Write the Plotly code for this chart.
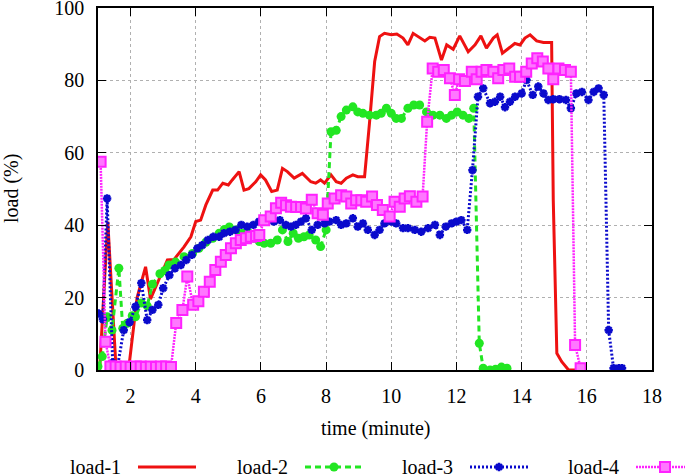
import plotly.graph_objects as go

# ---------------- data ----------------
load1_t = [1.05, 1.3, 1.55, 1.75, 1.95, 2.2, 2.46, 2.61, 2.87, 3.13, 3.33, 3.64, 3.85, 4.0, 4.15,
           4.31, 4.52, 4.67, 4.83, 5.0, 5.12, 5.33, 5.48, 5.63, 5.84, 5.99, 6.14, 6.33, 6.5, 6.66,
           6.81, 7.02, 7.27, 7.53, 7.68, 7.83, 7.95, 8.15, 8.31, 8.46, 8.62, 8.82, 8.97, 9.18, 9.33,
           9.49, 9.64, 9.79, 10.0, 10.17, 10.36, 10.51, 10.67, 10.85, 11.03, 11.18, 11.34, 11.54,
           11.7, 11.9, 12.1, 12.36, 12.57, 12.75, 12.92, 13.13, 13.25, 13.41, 13.59, 13.79, 13.95,
           14.1, 14.26, 14.46, 14.67, 14.92, 14.97, 15.08, 15.23, 15.44, 15.69]
load1_v = [0, 41, 1, 0.5, 1, 20, 28.5, 19.6, 25, 30.4, 30.5, 34, 36.8, 41, 41.4,
           45.6, 49.7, 49.7, 51.6, 51.1, 52.5, 54.8, 49.7, 50.1, 52, 53.9, 52.5, 49.3, 49.7, 55.7,
           54.8, 53, 54.3, 52, 51.6, 52.5, 51.6, 53.9, 52, 51.6, 53, 53.9, 53.4, 53.4, 68.1,
           85.2, 92.1, 93, 92.6, 92.8, 91.7, 89.8, 93, 91.9, 90.9, 91.9, 91.7, 85.6,
           89.8, 88.6, 92.3, 87.9, 89.8, 92.3, 88.9, 91.7, 92.6, 87.5, 88.8, 90.2, 89.8,
           91.7, 92.6, 90.9, 90.5, 90.5, 47, 4.6, 2.3, 0, 0]

load2_t = [1.0, 1.13, 1.28, 1.43, 1.64, 1.76, 1.9, 2.05, 2.15, 2.33, 2.51, 2.67, 2.9, 3.05, 3.18,
           3.38, 3.64, 3.9, 4.1, 4.31, 4.52, 4.72, 4.88, 5.03, 5.23, 5.43, 5.64, 5.79, 5.95, 6.1,
           6.3, 6.5, 6.66, 6.83, 6.99, 7.15, 7.32, 7.48, 7.68, 7.83, 8.0, 8.15, 8.31, 8.46, 8.62,
           8.82, 8.97, 9.13, 9.33, 9.54, 9.69, 9.85, 10.0, 10.15, 10.31, 10.51, 10.69, 10.87,
           11.08, 11.28, 11.49, 11.69, 11.85, 12.02, 12.2, 12.38, 12.53, 12.7, 12.82, 13.03,
           13.2, 13.38, 13.55]
load2_v = [1, 3.7, 14.7, 11, 28.1, 11.5, 12.9, 15, 14.7, 18.5, 17.7, 23.7, 26.6, 27.5, 29,
           29.8, 31.3, 32.2, 33.6, 35.3, 36.4, 37.8, 38.8, 39.5, 38.7, 37.8, 37.8, 36.4, 35.5, 35,
           35, 35.9, 38.7, 35.5, 37.8, 36.4, 36.8, 37.3, 35.9, 34.1, 38.7, 65.8, 66.2, 70, 71.8,
           72.7, 71.3, 70.9, 70.4, 70.4, 70.9, 72.3, 70.9, 69.5, 69.5, 72.3, 73.2, 73.2,
           71.3, 70.4, 70.4, 69.5, 70.4, 71.3, 70.4, 69.5, 72.3, 7.4, 0.5, 0,
           0.2, 0.8, 0.5]

load3_t = [1.02, 1.15, 1.28, 1.45, 1.59, 1.79, 1.97, 2.15, 2.33, 2.51, 2.67, 2.85, 3.0, 3.19,
           3.36, 3.54, 3.71, 3.88, 4.05, 4.2, 4.37, 4.54, 4.72, 4.87, 5.05, 5.22, 5.4, 5.58, 5.77,
           5.94, 6.1, 6.25, 6.4, 6.58, 6.76, 6.92, 7.07, 7.23, 7.38, 7.56, 7.74, 7.95, 8.1, 8.31,
           8.46, 8.62, 8.82, 8.97, 9.13, 9.28, 9.49, 9.64, 9.79, 10.0, 10.15, 10.36, 10.51, 10.72,
           10.92, 11.13, 11.34, 11.49, 11.67, 11.85, 12.0, 12.15, 12.33, 12.49, 12.66, 12.82,
           13.03, 13.18, 13.34, 13.49, 13.64, 13.8, 14.0, 14.15, 14.34, 14.51, 14.67, 14.82,
           14.97, 15.16, 15.36, 15.51, 15.68, 15.85, 16.05, 16.21, 16.36, 16.52, 16.67, 16.82,
           16.98, 17.08]
load3_v = [15.6, 14, 47.4, 2, 0.5, 11, 13.2, 17.5, 24, 13.8, 16.6, 18, 22.6, 26.2,
           28.1, 29, 30.4, 31.8, 33.6, 34.5, 35.9, 36.8, 36.8, 37.8, 38.2, 38.7, 40.1, 39.6, 40.1,
           41, 41.4, 41.4, 41, 41.4, 40.1, 39.6, 40.1, 41, 41.9, 38.7, 40.1, 40.5, 41, 41.4,
           40.1, 40.5, 41.9, 39.6, 40.5, 38.7, 37.3, 38.7, 40.5, 41, 40.5, 39.2, 39.2, 38.7,
           38.2, 39.2, 40.1, 37.3, 39.6, 40.5, 41, 41.4, 38.7, 55.2, 75.5, 77.8,
           73.7, 74.1, 75.5, 72.6, 74.1, 75.5, 76.4, 80.1, 76, 78.3, 76.4, 74.6,
           74.8, 74.8, 74.6, 72.3, 76.4, 76.8, 74.6, 76.8, 77.8, 76, 11, 0.5,
           0.5, 0.5]

load4_t = [1.08, 1.23, 1.38, 1.54, 1.69, 1.85, 2.0, 2.16, 2.31, 2.47, 2.62, 2.78, 2.93, 3.09, 3.24,
           3.4, 3.59, 3.74, 3.92, 4.08, 4.25, 4.43, 4.6, 4.77, 4.92, 5.08, 5.23, 5.38, 5.54, 5.69,
           5.85, 5.95, 6.1, 6.3, 6.46, 6.62, 6.77, 6.92, 7.08, 7.23, 7.38, 7.56, 7.74, 7.9, 8.05,
           8.26, 8.46, 8.62, 8.77, 8.92, 9.08, 9.23, 9.41, 9.56, 9.74, 9.95, 10.1, 10.26, 10.41,
           10.57, 10.77, 10.96, 11.1, 11.27, 11.44, 11.61, 11.8, 11.95, 12.08, 12.26, 12.47,
           12.62, 12.77, 12.92, 13.13, 13.28, 13.44, 13.62, 13.8, 13.95, 14.14, 14.31, 14.48,
           14.65, 14.82, 14.97, 15.13, 15.33, 15.51, 15.64, 15.81]
load4_v = [57.5, 7.8, 1, 1, 0.8, 1, 0.8, 1, 1, 0.8, 1, 0.8, 1, 1, 0.8,
           13, 16.6, 25.8, 18, 19, 21.6, 24.4, 27.6, 29.9, 31.8, 33.6, 35, 35.9, 36.4, 36.8,
           37, 37.3, 41.4, 42.4, 44.7, 46.2, 45.5, 45.1, 45, 45, 44.6, 47, 43.3, 42.9, 46,
           47.4, 48.3, 47.9, 46, 46.9, 46.9, 46.5, 47.9, 45.6, 44.2, 42.4, 46.5, 45.1, 47.4,
           48, 46.5, 47.9, 68.6, 83.3, 82.4, 82.9, 80.6, 76, 80.3, 79.8, 82.4,
           80.3, 82.4, 82.9, 82.4, 80.6, 82.9, 83.3, 81, 81, 82.4, 84.7, 86.1,
           85.2, 83.3, 80.3, 83.3, 82.9, 82.4, 6.9, 0.5]

series_names = ["load-1", "load-2", "load-3", "load-4"]
x_ticks = [2, 4, 6, 8, 10, 12, 14, 16, 18]
y_ticks = [0, 20, 40, 60, 80, 100]

# ---------------- styles ----------------
W, H = 685, 476
FONT = "'Liberation Serif', 'Times New Roman', 'DejaVu Serif', serif"
FS = 20
RED, GREEN, BLUE, PINK = "#ee1111", "#22e622", "#0a0acc", "#ff22ff"

styles = [
    dict(mode="lines", line=dict(color=RED, width=3)),
    dict(mode="lines+markers", line=dict(color=GREEN, width=3, dash="6px,4px"),
         marker=dict(symbol="circle", size=9, color=GREEN)),
    dict(mode="lines+markers", line=dict(color=BLUE, width=3, dash="2px,2px"),
         marker=dict(symbol="asterisk-open", size=7, color=BLUE, line=dict(color=BLUE, width=2.5))),
    dict(mode="lines+markers", line=dict(color=PINK, width=2.5, dash="2px,1px"),
         marker=dict(symbol="square", size=10, color="#ff77ff", line=dict(color=PINK, width=2))),
]

fig = go.Figure()
data = [(load1_t, load1_v), (load2_t, load2_v), (load3_t, load3_v), (load4_t, load4_v)]
for (t, v), name, st in zip(data, series_names, styles):
    fig.add_trace(go.Scatter(x=t, y=v, name=name, showlegend=False, xaxis="x", yaxis="y", **st))

# --- custom legend (text then sample, like gnuplot) on a pixel overlay axis ---
leg_text_x = [68, 235, 400, 566]
leg_y = 467
for i, (name, st) in enumerate(zip(series_names, styles)):
    x0 = leg_text_x[i] + 70
    x1 = x0 + 58
    fig.add_trace(go.Scatter(x=[x0, x1], y=[leg_y, leg_y], mode="lines", line=st["line"],
                             xaxis="x2", yaxis="y2", showlegend=False, hoverinfo="skip",
                             cliponaxis=False))
    if "marker" in st:
        fig.add_trace(go.Scatter(x=[(x0 + x1) / 2], y=[leg_y], mode="markers", marker=st["marker"],
                                 xaxis="x2", yaxis="y2", showlegend=False, hoverinfo="skip",
                                 cliponaxis=False))
    fig.add_annotation(x=leg_text_x[i], y=leg_y, xref="x2", yref="y2", text=name,
                       showarrow=False, xanchor="left", yanchor="middle",
                       font=dict(family=FONT, size=FS, color="black"))

fig.add_annotation(x=375, y=428, xref="x2", yref="y2", text="time (minute)", showarrow=False,
                   xanchor="center", yanchor="middle", font=dict(family=FONT, size=FS, color="black"))
fig.add_annotation(x=11, y=189, xref="x2", yref="y2", text="load (%)", showarrow=False,
                   textangle=-90, xanchor="center", yanchor="middle",
                   font=dict(family=FONT, size=FS, color="black"))

axis_common = dict(
    showline=True, linecolor="black", linewidth=1.5, mirror="allticks",
    ticks="inside", ticklen=8, tickwidth=1.2, tickcolor="black",
    showgrid=True, gridcolor="#b0b0b0", griddash="dot", gridwidth=1,
    zeroline=False, automargin=False, ticklabeloverflow="allow",
    tickfont=dict(family=FONT, size=FS, color="black"),
)

fig.update_layout(
    width=W, height=H,
    margin=dict(l=0, r=0, t=0, b=0),
    font=dict(family=FONT, size=FS, color="black"),
    paper_bgcolor="white", plot_bgcolor="rgba(0,0,0,0)",
    xaxis=dict(domain=[98 / W, 652 / W], range=[1, 18], tickvals=x_ticks, anchor="y",
               ticklabelstandoff=7, **axis_common),
    yaxis=dict(domain=[(H - 370) / H, (H - 8) / H], range=[0, 100], tickvals=y_ticks, anchor="x",
               ticklabelstandoff=8, **axis_common),
    xaxis2=dict(domain=[0, 1], range=[0, W], visible=False, anchor="y2", fixedrange=True),
    yaxis2=dict(domain=[0, 1], range=[H, 0], visible=False, anchor="x2", fixedrange=True),
    showlegend=False,
)

fig.write_html("out.html", config={"displayModeBar": False},
               post_script="document.body.style.margin='0';document.body.style.overflow='hidden';")
